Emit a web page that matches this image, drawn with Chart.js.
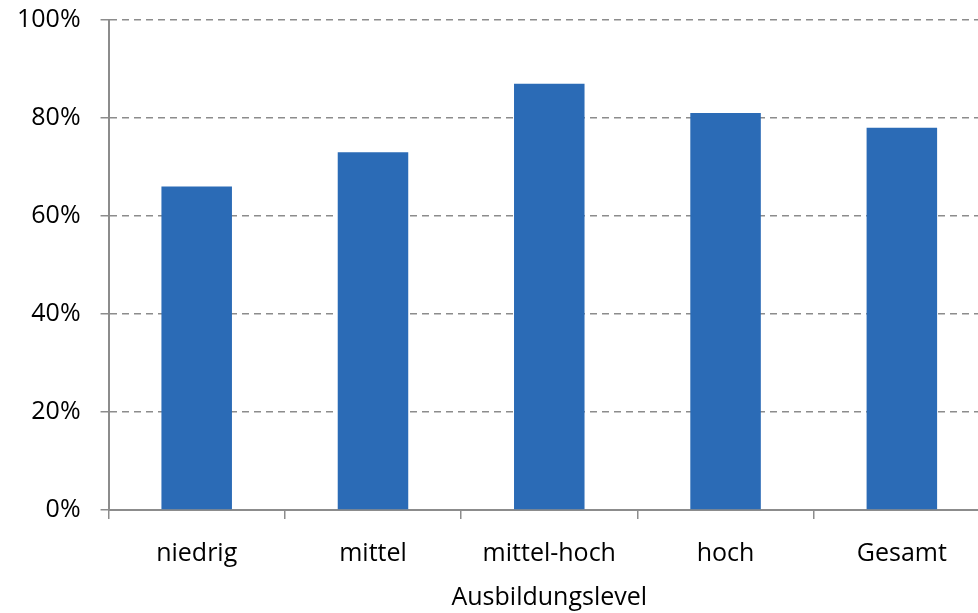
<!DOCTYPE html>
<html>
<head>
<meta charset="utf-8">
<script src="https://cdn.jsdelivr.net/npm/chart.js@4/dist/chart.umd.min.js"></script>
<style>
  html, body { margin: 0; padding: 0; background: #fff; overflow: hidden; }
  #wrap { position: relative; width: 990px; height: 628px; margin-top: -15px; }
</style>
</head>
<body>
<div id="wrap"><canvas id="chart"></canvas></div>
<script>
// Anteil je Ausbildungslevel (in %)
const levels = ['niedrig', 'mittel', 'mittel-hoch', 'hoch', 'Gesamt'];
const shares = [66, 73, 87, 81, 78];
const yTicks = [0, 20, 40, 60, 80, 100];

const axisGray = '#8c8c8c';
const font = { family: '"Open Sans", Lato, sans-serif', size: 25 };

new Chart(document.getElementById('chart'), {
  type: 'bar',
  data: {
    labels: levels,
    datasets: [{
      data: shares,
      backgroundColor: '#2b6bb6',
      borderWidth: 0,
      categoryPercentage: 1,
      barPercentage: 0.4
    }]
  },
  options: {
    responsive: true,
    maintainAspectRatio: false,
    animation: false,
    layout: { padding: { top: 0, right: 0, bottom: 0, left: -3 } },
    plugins: { legend: { display: false }, tooltip: { enabled: false } },
    scales: {
      x: {
        grid: {
          offset: true,
          drawOnChartArea: false,
          drawTicks: true,
          tickLength: 9,
          color: axisGray,
          lineWidth: 1.5
        },
        border: { display: true, color: axisGray, width: 2 },
        ticks: { color: '#000', font: font, padding: 20 },
        title: {
          display: true,
          text: 'Ausbildungslevel',
          color: '#000',
          font: font,
          padding: { top: -6, bottom: 0 }
        }
      },
      y: {
        min: 0,
        max: 100,
        afterBuildTicks: axis => { axis.ticks = yTicks.map(v => ({ value: v })); },
        grid: {
          color: axisGray,
          lineWidth: 1.5,
          tickLength: 8,
          tickBorderDash: [],
          drawTicks: true
        },
        border: { display: true, color: axisGray, width: 2, dash: [7, 5] },
        ticks: {
          color: '#000',
          font: font,
          padding: 20,
          callback: v => v + '%'
        }
      }
    }
  }
});
</script>
</body>
</html>
